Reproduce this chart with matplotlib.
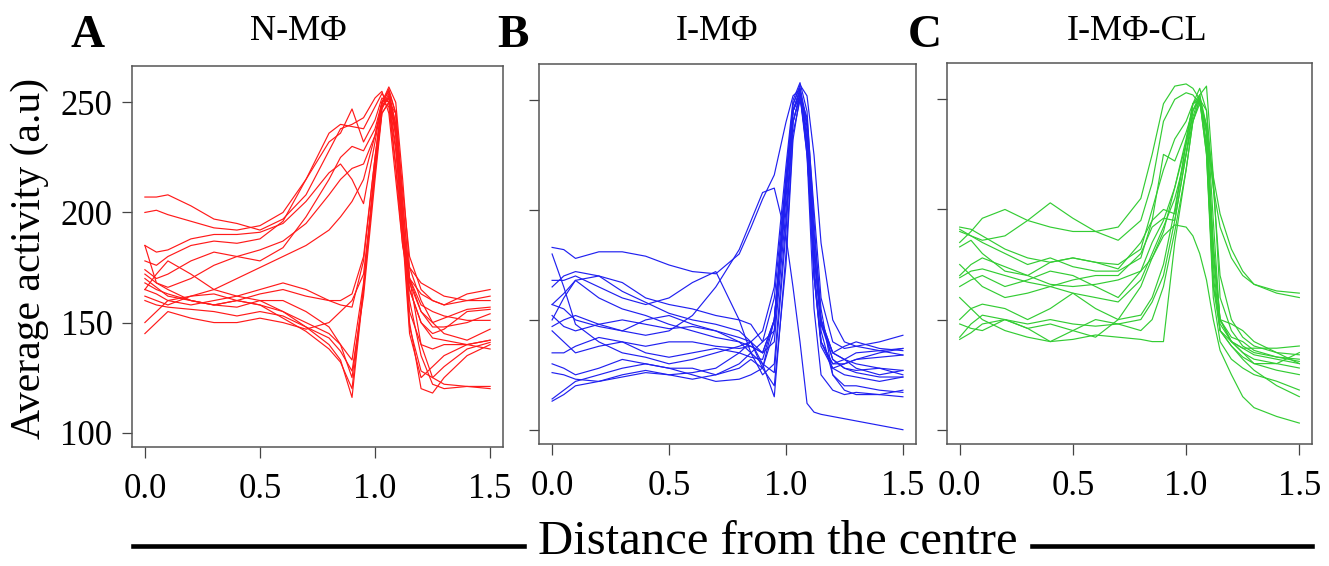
import matplotlib
matplotlib.use('Agg')
import matplotlib.pyplot as plt
from matplotlib.lines import Line2D

plt.rcParams['font.family'] = ['Liberation Serif', 'DejaVu Serif']

# distance from the centre (shared sampling for every profile)
dist = [0.00, 0.05, 0.10, 0.20, 0.30, 0.40, 0.50, 0.60, 0.70, 0.80, 0.85, 0.90,
        0.95, 1.00, 1.03, 1.06, 1.09, 1.12, 1.15, 1.20, 1.25, 1.30, 1.40, 1.50]

# A : N-MPhi profiles
n_mphi = [
    [207, 207, 208, 203, 197, 195, 192, 197, 208, 228, 238, 240, 243, 252, 255, 245, 215, 185, 170, 163, 160, 158, 160, 162],
    [200, 201, 199, 196, 193, 192, 194, 200, 215, 236, 240, 239, 238, 248, 254, 250, 222, 190, 175, 168, 165, 162, 160, 160],
    [185, 182, 183, 188, 190, 190, 191, 195, 205, 218, 222, 215, 204, 232, 250, 248, 220, 185, 165, 150, 143, 142, 140, 142],
    [178, 176, 180, 185, 187, 186, 188, 196, 215, 232, 236, 247, 232, 242, 252, 250, 228, 195, 170, 158, 155, 153, 151, 151],
    [174, 170, 172, 178, 182, 180, 178, 184, 198, 215, 225, 230, 228, 238, 250, 252, 230, 190, 165, 150, 145, 147, 155, 156],
    [172, 168, 166, 170, 176, 180, 183, 187, 195, 208, 215, 220, 222, 235, 248, 254, 235, 195, 168, 155, 150, 152, 156, 157],
    [185, 168, 165, 160, 158, 157, 160, 160, 155, 148, 140, 125, 165, 220, 248, 252, 238, 195, 148, 128, 125, 130, 138, 141],
    [165, 163, 160, 158, 160, 162, 160, 155, 148, 140, 133, 116, 165, 222, 250, 255, 240, 195, 150, 120, 118, 125, 135, 140],
    [170, 166, 162, 160, 158, 160, 158, 152, 146, 138, 132, 120, 166, 220, 248, 252, 235, 190, 145, 125, 130, 135, 140, 142],
    [160, 158, 157, 156, 155, 153, 155, 153, 148, 143, 137, 128, 162, 215, 245, 250, 238, 200, 160, 135, 122, 120, 121, 120],
    [150, 155, 160, 162, 163, 160, 158, 155, 150, 145, 140, 133, 168, 220, 245, 250, 245, 205, 170, 140, 125, 122, 121, 121],
    [145, 150, 155, 152, 150, 150, 152, 150, 147, 150, 155, 160, 172, 218, 247, 253, 240, 200, 155, 140, 138, 140, 140, 138],
    [165, 172, 178, 172, 165, 162, 165, 168, 165, 160, 158, 157, 178, 225, 250, 255, 245, 210, 180, 165, 160, 158, 163, 165],
    [162, 160, 158, 162, 165, 170, 175, 180, 185, 192, 198, 205, 215, 235, 250, 257, 250, 215, 175, 160, 150, 145, 142, 147],
    [168, 165, 163, 160, 158, 160, 163, 165, 162, 160, 160, 163, 180, 225, 250, 256, 245, 205, 170, 155, 148, 148, 150, 154],
]

# B : I-MPhi profiles
i_mphi = [
    [183, 182, 178, 181, 181, 179, 175, 172, 171, 180, 192, 205, 216, 240, 252, 255, 225, 180, 150, 135, 132, 130, 128, 127],
    [180, 165, 148, 140, 135, 133, 130, 132, 135, 138, 140, 135, 150, 210, 245, 254, 232, 175, 140, 130, 132, 135, 136, 137],
    [168, 168, 170, 165, 160, 157, 160, 167, 172, 150, 135, 130, 126, 190, 240, 252, 228, 170, 138, 128, 130, 132, 133, 134],
    [157, 155, 150, 147, 145, 143, 145, 152, 165, 182, 195, 208, 210, 188, 165, 140, 112, 108, 107, 106, 105, 104, 102, 100],
    [150, 160, 168, 170, 167, 160, 157, 155, 152, 150, 148, 140, 145, 210, 245, 255, 235, 180, 150, 132, 128, 127, 128, 125],
    [152, 147, 145, 148, 150, 148, 146, 147, 145, 140, 135, 125, 130, 195, 240, 253, 232, 180, 148, 135, 138, 140, 137, 136],
    [147, 150, 152, 148, 145, 150, 152, 148, 145, 142, 140, 130, 115, 180, 235, 250, 240, 190, 155, 125, 120, 120, 118, 117],
    [145, 140, 135, 138, 140, 138, 140, 140, 138, 137, 138, 135, 140, 200, 240, 252, 230, 170, 140, 128, 125, 124, 122, 124],
    [135, 135, 138, 142, 140, 135, 133, 135, 137, 135, 133, 132, 150, 215, 248, 256, 240, 185, 145, 125, 118, 116, 116, 115],
    [130, 128, 125, 128, 132, 130, 128, 128, 125, 128, 132, 128, 145, 205, 245, 255, 228, 170, 140, 130, 130, 132, 135, 137],
    [126, 125, 123, 122, 125, 127, 125, 123, 125, 130, 135, 140, 160, 215, 248, 257, 252, 225, 185, 150, 140, 138, 136, 134],
    [114, 118, 122, 125, 128, 130, 128, 125, 122, 123, 125, 128, 150, 210, 245, 252, 225, 155, 125, 118, 116, 117, 116, 118],
    [113, 116, 120, 122, 124, 126, 125, 126, 128, 135, 140, 145, 165, 220, 250, 258, 245, 195, 150, 135, 132, 128, 125, 127],
    [157, 162, 168, 160, 155, 152, 148, 145, 142, 140, 138, 135, 150, 212, 245, 254, 238, 185, 148, 132, 128, 126, 124, 124],
    [165, 170, 172, 170, 163, 158, 153, 150, 148, 145, 140, 128, 120, 175, 232, 252, 242, 200, 160, 140, 137, 138, 140, 143],
]

# C : I-MPhi-CL profiles
i_mphi_cl = [
    [185, 190, 196, 200, 195, 192, 190, 190, 192, 205, 225, 248, 256, 257, 255, 250, 235, 210, 192, 178, 170, 166, 163, 162],
    [190, 188, 186, 188, 195, 203, 196, 190, 186, 195, 212, 240, 250, 253, 252, 248, 236, 215, 198, 182, 172, 166, 162, 160],
    [192, 191, 188, 182, 178, 176, 178, 176, 175, 182, 200, 218, 232, 240, 248, 252, 238, 180, 150, 140, 137, 137, 137, 138],
    [191, 188, 185, 180, 175, 178, 174, 172, 172, 178, 195, 225, 222, 235, 245, 252, 230, 170, 145, 138, 133, 130, 130, 135],
    [183, 186, 180, 172, 170, 176, 178, 176, 173, 185, 195, 200, 198, 230, 248, 250, 225, 165, 150, 148, 145, 140, 135, 130],
    [169, 172, 173, 170, 167, 165, 168, 170, 170, 180, 192, 196, 195, 225, 245, 250, 235, 175, 145, 140, 135, 132, 130, 128],
    [165, 168, 170, 165, 168, 172, 170, 165, 160, 172, 185, 195, 210, 232, 248, 255, 245, 195, 148, 140, 137, 134, 132, 130],
    [175, 170, 165, 160, 162, 165, 162, 160, 158, 168, 180, 192, 205, 225, 240, 248, 238, 185, 150, 142, 140, 136, 133, 131],
    [142, 148, 152, 150, 146, 148, 145, 142, 150, 165, 178, 188, 193, 192, 188, 180, 168, 150, 136, 125, 115, 110, 106, 103],
    [150, 155, 157, 155, 150, 155, 162, 155, 150, 152, 160, 175, 200, 230, 248, 250, 225, 160, 140, 132, 128, 125, 122, 118],
    [148, 146, 145, 150, 148, 150, 148, 147, 148, 150, 158, 170, 195, 225, 245, 250, 228, 165, 145, 138, 132, 127, 120, 115],
    [141, 144, 148, 150, 146, 140, 141, 143, 142, 141, 140, 140, 185, 218, 240, 250, 238, 180, 150, 140, 135, 130, 127, 125],
    [160, 155, 150, 145, 142, 140, 145, 150, 148, 145, 150, 165, 190, 218, 240, 250, 245, 210, 170, 150, 142, 138, 135, 134],
    [170, 175, 178, 174, 170, 166, 165, 166, 168, 172, 178, 190, 210, 230, 242, 252, 256, 215, 160, 145, 138, 135, 133, 132],
]

panels = [n_mphi, i_mphi, i_mphi_cl]
titles = ['N-M\u03a6', 'I-M\u03a6', 'I-M\u03a6-CL']
letters = ['A', 'B', 'C']
colors = ['#ff1a1a', '#2020f0', '#33cc33']
xticks = [0.0, 0.5, 1.0, 1.5]
yticks = [100, 150, 200, 250]

W, H = 1329, 566
fig = plt.figure(figsize=(W / 100, H / 100), dpi=100)

# axes boxes in pixels: left, top, right, bottom
boxes = [(132, 66, 503, 447), (539, 64, 916, 444), (947, 63, 1312, 444)]
title_x = [298, 717, 1137]
letter_x = [88, 513, 925]

for i, curves in enumerate(panels):
    l, t, r, b = boxes[i]
    ax = fig.add_axes([l / W, 1 - b / H, (r - l) / W, (b - t) / H])
    for c in curves:
        ax.plot(dist, c, color=colors[i], lw=0.85)
    ax.set_xlim(-0.056, 1.556)
    ax.set_ylim(93.5, 266.5)
    ax.set_xticks(xticks)
    ax.set_xticklabels(['%.1f' % v for v in xticks])
    ax.set_yticks(yticks)
    if i > 0:
        ax.set_yticklabels([])
    ax.tick_params(axis='x', direction='out', length=8, width=0.9, colors='#444444',
                   labelcolor='black', labelsize=25, pad=11)
    ax.tick_params(axis='y', direction='out', length=7, width=0.9, colors='#444444',
                   labelcolor='black', labelsize=25, pad=7)
    for s in ax.spines.values():
        s.set_color('#555555')
        s.set_linewidth(1.1)

    fig.text(title_x[i] / W, 1 - 40 / H, titles[i], ha='center', va='baseline', fontsize=26)
    fig.text(letter_x[i] / W, 1 - 47 / H, letters[i], ha='center', va='baseline',
             fontsize=34, fontweight='bold')

fig.text(30 / W, 1 - 258 / H, 'Average activity (a.u)', rotation=90,
         ha='center', va='center', fontsize=30)
fig.text(778 / W, 1 - 554 / H, 'Distance from the centre', ha='center', va='baseline', fontsize=35)

fig.add_artist(Line2D([133 / W, 524 / W], [1 - 546 / H, 1 - 546 / H], color='black', lw=3.3))
fig.add_artist(Line2D([1032 / W, 1312 / W], [1 - 546 / H, 1 - 546 / H], color='black', lw=3.3))

fig.savefig('out.png', dpi=100)
